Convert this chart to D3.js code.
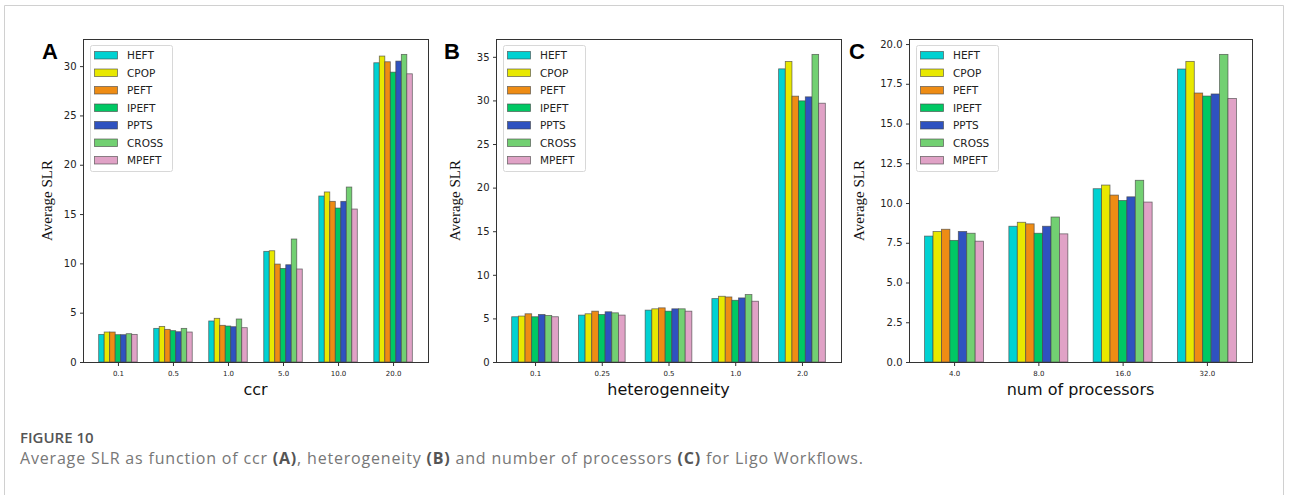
<!DOCTYPE html>
<html>
<head>
<meta charset="utf-8">
<script src="https://cdn.jsdelivr.net/npm/d3@7"></script>
<style>
  html, body { margin: 0; padding: 0; background: #fff; }
  svg { display: block; }
</style>
</head>
<body>
<div id="chart"></div>
<script>
// series names and colours
var algorithms = ["HEFT", "CPOP", "PEFT", "IPEFT", "PPTS", "CROSS", "MPEFT"];
var algoColors = ["#00d2d2", "#e8e800", "#ee8c14", "#00c864", "#2f52c0", "#72d072", "#e0a2c6"];

// panel A: ccr
var ccrLabels = ["0.1", "0.5", "1.0", "5.0", "10.0", "20.0"];
var ccrSLR = [
    [2.80, 3.04, 3.04, 2.77, 2.77, 2.87, 2.80],
    [3.41, 3.61, 3.31, 3.18, 3.07, 3.41, 3.04],
    [4.16, 4.43, 3.72, 3.65, 3.58, 4.36, 3.48],
    [11.22, 11.28, 9.93, 9.49, 9.86, 12.47, 9.43],
    [16.83, 17.24, 16.29, 15.61, 16.29, 17.74, 15.51],
    [30.34, 31.02, 30.44, 29.39, 30.51, 31.19, 29.22]
];
var ccrTicks = [0, 5, 10, 15, 20, 25, 30];

// panel B: heterogeneity
var hetLabels = ["0.1", "0.25", "0.5", "1.0", "2.0"];
var hetSLR = [
    [5.19, 5.27, 5.53, 5.19, 5.45, 5.34, 5.19],
    [5.38, 5.53, 5.83, 5.45, 5.76, 5.64, 5.38],
    [5.95, 6.10, 6.21, 5.83, 6.10, 6.10, 5.83],
    [7.27, 7.54, 7.46, 7.08, 7.35, 7.73, 6.97],
    [33.62, 34.47, 30.49, 29.95, 30.41, 35.28, 29.68]
];
var hetTicks = [0, 5, 10, 15, 20, 25, 30, 35];

// panel C: number of processors
var procLabels = ["4.0", "8.0", "16.0", "32.0"];
var procSLR = [
    [7.92, 8.21, 8.35, 7.65, 8.21, 8.10, 7.60],
    [8.54, 8.79, 8.69, 8.10, 8.54, 9.12, 8.06],
    [10.90, 11.13, 10.50, 10.16, 10.39, 11.43, 10.06],
    [18.43, 18.91, 16.92, 16.73, 16.86, 19.35, 16.58]
];
var procTicks = [0, 2.5, 5, 7.5, 10, 12.5, 15, 17.5, 20];

var W = 1290, H = 495;
var barW = 0.1;
var plotTop = 39, plotBottom = 362;

var svg = d3.select("#chart")
    .append("svg")
    .attr("width", W)
    .attr("height", H);

// light frame round the figure
svg.append("path")
    .attr("d", "M4.5," + H + "V5.5H1283.5V" + H)
    .attr("fill", "none")
    .attr("stroke", "#d0d0d0");

var panels = [
    { letter: "A", letterX: 42, labelX: 52, left: 83, right: 428, cats: ccrLabels, vals: ccrSLR, ticks: ccrTicks, fmt: d3.format("d"), xlabel: "ccr" },
    { letter: "B", letterX: 444, labelX: 460, left: 496, right: 841, cats: hetLabels, vals: hetSLR, ticks: hetTicks, fmt: d3.format("d"), xlabel: "heterogenneity" },
    { letter: "C", letterX: 849, labelX: 864, left: 909, right: 1252, cats: procLabels, vals: procSLR, ticks: procTicks, fmt: d3.format(".1f"), xlabel: "num of processors" }
];

panels.forEach(function(p) {
    var n = p.cats.length;
    var span = (n - 1) + 7 * barW;
    var pad = 0.05 * span;
    var x = d3.scaleLinear()
        .domain([-3.5 * barW - pad, n - 1 + 3.5 * barW + pad])
        .range([p.left, p.right]);
    var maxV = d3.max(p.vals, function(r) { return d3.max(r); });
    var y = d3.scaleLinear()
        .domain([0, maxV * 1.05])
        .range([plotBottom, plotTop]);

    var g = svg.append("g");

    // bars
    p.vals.forEach(function(row, i) {
        g.append("g").selectAll("rect")
            .data(row)
            .enter()
            .append("rect")
            .attr("x", function(d, j) { return x(i + (j - 3) * barW - barW / 2); })
            .attr("width", x(barW) - x(0))
            .attr("y", function(d) { return y(d); })
            .attr("height", function(d) { return y(0) - y(d); })
            .attr("fill", function(d, j) { return algoColors[j]; })
            .attr("stroke", "#444")
            .attr("stroke-opacity", 0.75)
            .attr("stroke-width", 0.8);
    });

    // frame
    g.append("rect")
        .attr("x", p.left + 0.5)
        .attr("y", plotTop + 0.5)
        .attr("width", p.right - p.left)
        .attr("height", plotBottom - plotTop)
        .attr("fill", "none")
        .attr("stroke", "#333")
        .attr("stroke-width", 1);

    // y axis
    var yAxis = g.append("g")
        .attr("transform", "translate(" + (p.left + 0.5) + ",0)")
        .call(d3.axisLeft(y).tickValues(p.ticks).tickFormat(p.fmt).tickSize(3.5).tickPadding(3.5));
    yAxis.select(".domain").remove();
    yAxis.selectAll("line").attr("stroke", "#333");
    yAxis.selectAll("text")
        .attr("fill", "#222")
        .style("font-family", "DejaVu Sans")
        .style("font-size", "10px");

    // x axis
    var xAxis = g.append("g")
        .attr("transform", "translate(0," + (plotBottom + 0.5) + ")")
        .call(d3.axisBottom(x).tickValues(d3.range(n)).tickFormat(function(d) { return p.cats[d]; }).tickSize(3.5).tickPadding(5));
    xAxis.select(".domain").remove();
    xAxis.selectAll("line").attr("stroke", "#333");
    xAxis.selectAll("text")
        .attr("fill", "#222")
        .style("font-family", "DejaVu Sans")
        .style("font-size", "7px");

    // axis titles
    g.append("text")
        .attr("x", (p.left + p.right) / 2)
        .attr("y", 395)
        .attr("text-anchor", "middle")
        .attr("fill", "#111")
        .style("font-family", "DejaVu Sans")
        .style("font-size", "16px")
        .text(p.xlabel);

    g.append("text")
        .attr("transform", "translate(" + p.labelX + "," + ((plotTop + plotBottom) / 2) + ") rotate(-90)")
        .attr("text-anchor", "middle")
        .attr("fill", "#111")
        .style("font-family", "Liberation Serif")
        .style("font-size", "15px")
        .text("Average SLR");

    // panel letter
    g.append("text")
        .attr("x", p.letterX)
        .attr("y", 59)
        .attr("fill", "#000")
        .style("font-family", "Liberation Sans")
        .style("font-weight", "bold")
        .style("font-size", "22px")
        .text(p.letter);

    // legend
    var lg = g.append("g")
        .attr("transform", "translate(" + (p.left + 7) + "," + (plotTop + 6) + ")");
    lg.append("rect")
        .attr("x", 0.5)
        .attr("y", 0.5)
        .attr("width", 82)
        .attr("height", 126)
        .attr("rx", 2)
        .attr("fill", "#fff")
        .attr("fill-opacity", 0.8)
        .attr("stroke", "#d8d8d8");
    var item = lg.selectAll(".item")
        .data(algorithms)
        .enter()
        .append("g")
        .attr("transform", function(d, i) { return "translate(0," + (10 + i * 17.5) + ")"; });
    item.append("rect")
        .attr("x", 4.5)
        .attr("y", -3.5)
        .attr("width", 23)
        .attr("height", 7.5)
        .attr("fill", function(d, i) { return algoColors[i]; })
        .attr("stroke", "#444")
        .attr("stroke-opacity", 0.75)
        .attr("stroke-width", 0.8);
    item.append("text")
        .attr("x", 37)
        .attr("y", 4)
        .attr("fill", "#222")
        .style("font-family", "DejaVu Sans")
        .style("font-size", "10.5px")
        .text(function(d) { return d; });
});

// caption
svg.append("text")
    .attr("x", 20)
    .attr("y", 443)
    .attr("fill", "#555")
    .style("font-family", "Open Sans")
    .style("font-weight", 600)
    .style("font-size", "15px")
    .text("FIGURE 10");

var cap = svg.append("text")
    .attr("x", 20)
    .attr("y", 464)
    .attr("fill", "#777")
    .attr("textLength", 843)
    .attr("lengthAdjust", "spacing")
    .style("font-family", "Open Sans")
    .style("font-size", "16px");
var parts = [
    ["Average SLR as function of ccr ", false], ["(A)", true], [", heterogeneity ", false], ["(B)", true],
    [" and number of processors ", false], ["(C)", true], [" for Ligo Workflows.", false]
];
parts.forEach(function(t) {
    cap.append("tspan")
        .style("font-weight", t[1] ? 700 : 400)
        .attr("fill", t[1] ? "#555" : "#777")
        .text(t[0]);
});
</script>
</body>
</html>
